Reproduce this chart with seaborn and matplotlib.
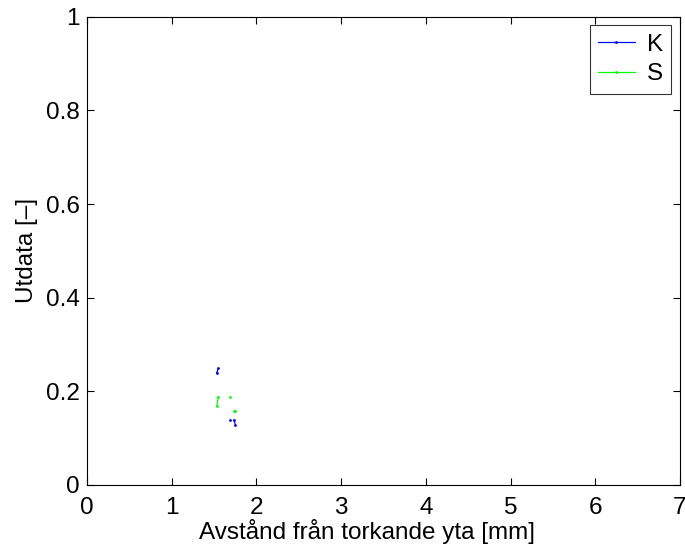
import numpy as np
import pandas as pd
import matplotlib
matplotlib.use("Agg")
import matplotlib.pyplot as plt
import seaborn as sns

sns.set_style("white")
plt.rcParams["font.family"] = ["Liberation Sans", "DejaVu Sans"]
plt.rcParams["text.color"] = "black"
plt.rcParams["axes.labelcolor"] = "black"
plt.rcParams["xtick.color"] = "black"
plt.rcParams["ytick.color"] = "black"

# segment id, x, y for each series (Matlab-like broken lines)
k_seg = [0, 0, 1, 2, 2]
k_x = [1.55, 1.53, 1.69, 1.735, 1.75]
k_y = [0.249, 0.239, 0.139, 0.139, 0.129]

s_seg = [0, 0, 1, 2, 2]
s_x = [1.55, 1.533, 1.69, 1.735, 1.75]
s_y = [0.189, 0.169, 0.189, 0.159, 0.159]

df = pd.concat([
    pd.DataFrame({"serie": "K", "seg": k_seg, "x": k_x, "y": k_y}),
    pd.DataFrame({"serie": "S", "seg": s_seg, "x": s_x, "y": s_y}),
])

fig = plt.figure(figsize=(6.85, 5.44), dpi=100)
ax = fig.add_axes([0.127, 0.1085, 0.8657, 0.8605])

sns.lineplot(data=df, x="x", y="y", hue="serie", units="seg", estimator=None,
             sort=False, marker=".", markersize=4, linewidth=0.9,
             markeredgewidth=0, palette={"K": "#0000ff", "S": "#00ff00"}, ax=ax)

ax.set_xlim(0, 7)
ax.set_ylim(0, 1)
ax.set_xticks(range(0, 8))
ax.set_yticks([0, 0.2, 0.4, 0.6, 0.8, 1])
ax.set_yticklabels(["0", "0.2", "0.4", "0.6", "0.8", "1"])
ax.tick_params(direction="in", labelsize=17.5, length=5, top=True, right=True,
               bottom=True, left=True)
ax.tick_params(axis="x", pad=9)
ax.tick_params(axis="y", pad=5)
for sp in ax.spines.values():
    sp.set_color("black")
    sp.set_linewidth(0.8)

ax.set_xlabel("Avstånd från torkande yta [mm]", fontsize=17.5, labelpad=0)
ax.xaxis.label.set_x(0.472)
ax.set_ylabel("Utdata [–]", fontsize=17.5, labelpad=6)

leg = ax.legend(loc="upper right", fontsize=17.5, frameon=True, fancybox=False,
                edgecolor="black", borderaxespad=0.35, handlelength=1.5,
                labelspacing=0.3, borderpad=0.35, handletextpad=0.5)
leg.get_frame().set_linewidth(0.8)

plt.savefig("out.png", dpi=100)
